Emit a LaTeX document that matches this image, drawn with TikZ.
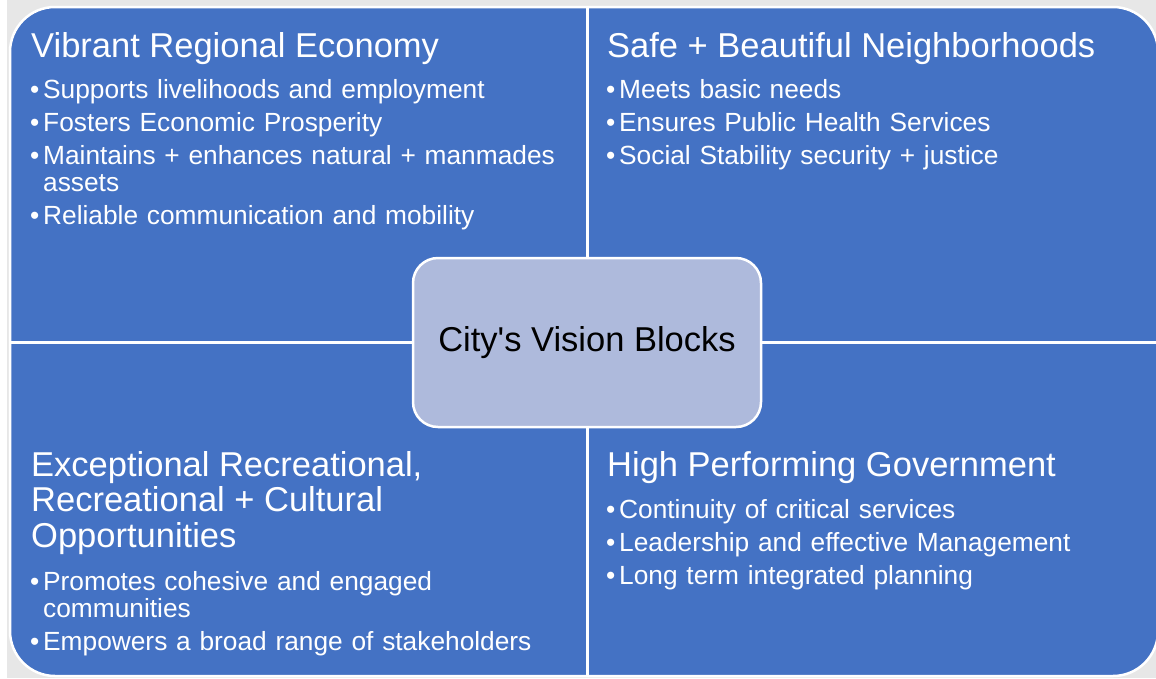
\documentclass[tikz,border=0pt]{standalone}
\usepackage{fontspec}
\setmainfont{Liberation Sans}
\usepackage{tikz}
\definecolor{blockblue}{HTML}{4472C4}
\definecolor{hubfill}{HTML}{AEBADC}
\definecolor{pagegray}{HTML}{E7E7E7}
\newcommand\vbitem[1]{\hangindent=13pt\hangafter=1\noindent\makebox[13pt][l]{\textbullet}#1\par}

\begin{document}
\begin{tikzpicture}[x=1pt,y=-1pt,
    quadtitle/.style={anchor=base west,text=white,inner sep=0pt,align=left,
      font=\fontsize{34.5}{35.5}\selectfont},
    quadlist/.style={anchor=base west,text=white,inner sep=0pt,align=left,
      text width=545pt,font=\fontsize{26.3}{27}\selectfont},
    visionbox/.style={fill=hubfill,draw=white,line width=2.5pt,rounded corners=25pt,
      minimum width=348pt,minimum height=169pt,text=black,
      font=\fontsize{34.5}{36}\selectfont}]
  \useasboundingbox (0,0) rectangle (1156,678);
  % background and the four blocks
  \fill[pagegray] (7,0) rectangle (1156,678);
  \filldraw[fill=blockblue,draw=white,line width=2.5pt,rounded corners=45pt] (10,7) rectangle (1158,676);
  \draw[white,line width=3pt] (587,7) -- (587,676);
  \draw[white,line width=3pt] (10,342) -- (1158,342);
  % top left
  \node[quadtitle] (econtitle) at (31,57) {Vibrant Regional Economy};
  \node[quadlist] (econlist) at (30,98) {\setlength{\parskip}{6pt}%
    \vbitem{Supports livelihoods and employment}%
    \vbitem{Fosters Economic Prosperity}%
    \vbitem{Maintains + enhances natural + manmades\newline assets}%
    \vbitem{Reliable communication and mobility}};
  % top right
  \node[quadtitle] (safetitle) at (607,57) {Safe + Beautiful Neighborhoods};
  \node[quadlist] (safelist) at (606,98) {\setlength{\parskip}{6pt}%
    \vbitem{Meets basic needs}%
    \vbitem{Ensures Public Health Services}%
    \vbitem{Social Stability security + justice}};
  % bottom left (base = last line)
  \node[quadtitle] (recrtitle) at (31,547) {Exceptional Recreational,\\Recreational + Cultural\\Opportunities};
  \node[quadlist] (recrlist) at (30,590) {\setlength{\parskip}{6pt}%
    \vbitem{Promotes cohesive and engaged\newline communities}%
    \vbitem{Empowers a broad range of stakeholders}};
  % bottom right
  \node[quadtitle] (govtitle) at (607,476) {High Performing Government};
  \node[quadlist] (govlist) at (606,518) {\setlength{\parskip}{6pt}%
    \vbitem{Continuity of critical services}%
    \vbitem{Leadership and effective Management}%
    \vbitem{Long term integrated planning}};
  % centre
  \node[visionbox] (hub) at (587,342.5) {City\textquotesingle s Vision Blocks};
\end{tikzpicture}
\end{document}
